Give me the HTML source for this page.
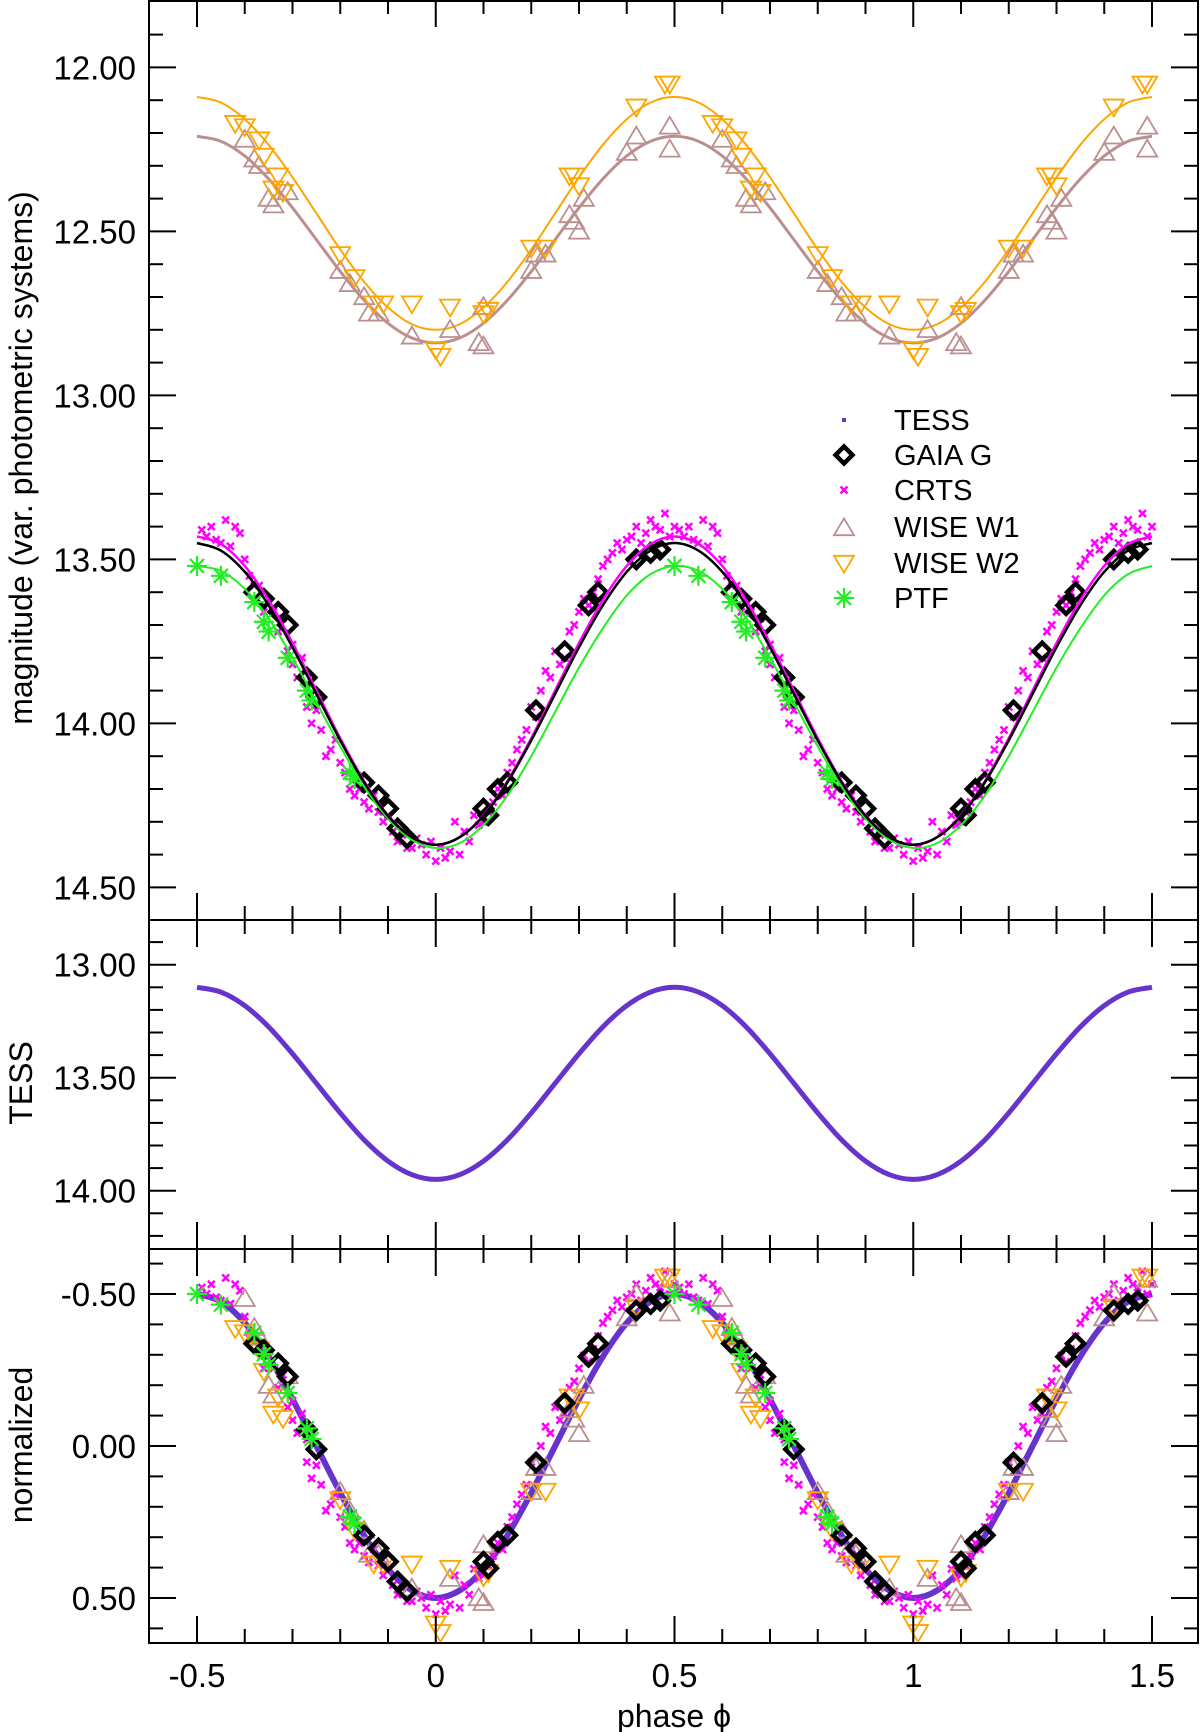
<!DOCTYPE html>
<html><head><meta charset="utf-8"><style>
html,body{margin:0;padding:0;background:#fff}
svg{display:block}
text{font-family:"Liberation Sans",sans-serif;fill:#000}
</style></head><body>
<svg id="c" width="1200" height="1732" viewBox="0 0 1200 1732" xmlns="http://www.w3.org/2000/svg"></svg>
<script>
// ---- data (one cycle, phase -0.5..0.5; drawn again at phase+1) ----
const fitPhases=[-0.5,-0.45,-0.4,-0.35,-0.3,-0.25,-0.2,-0.15,-0.1,-0.05,0,0.05,0.1,0.15,0.2,0.25,0.3,0.35,0.4,0.45,0.5];
const fitW2=[12.09,12.107,12.158,12.236,12.335,12.445,12.555,12.654,12.732,12.783,12.80,12.783,12.732,12.654,12.555,12.445,12.335,12.236,12.158,12.107,12.09];
const fitW1=[12.21,12.225,12.270,12.340,12.428,12.525,12.622,12.710,12.780,12.825,12.84,12.825,12.780,12.710,12.622,12.525,12.428,12.340,12.270,12.225,12.21];
const fitGaia=[13.45,13.473,13.538,13.640,13.768,13.91,14.052,14.180,14.282,14.347,14.37,14.347,14.282,14.180,14.052,13.91,13.768,13.640,13.538,13.473,13.45];
const fitCrts=[13.43,13.453,13.520,13.624,13.755,13.90,14.045,14.176,14.280,14.347,14.37,14.347,14.280,14.176,14.045,13.90,13.755,13.624,13.520,13.453,13.43];
const fitPtf=[13.52,13.535,13.590,13.680,13.800,13.935,14.070,14.193,14.290,14.355,14.38,14.365,14.310,14.220,14.100,13.965,13.830,13.710,13.610,13.545,13.52];
const tessMag=[13.10,13.121,13.181,13.275,13.394,13.525,13.656,13.775,13.869,13.929,13.95,13.929,13.869,13.775,13.656,13.525,13.394,13.275,13.181,13.121,13.10];

const w2Ph=[-0.42,-0.40,-0.37,-0.36,-0.34,-0.33,-0.32,-0.2,-0.17,-0.13,-0.11,-0.05,0.0,0.01,0.03,0.1,0.11,0.2,0.23,0.28,0.29,0.30,0.42,0.48,0.49];
const w2Mag=[12.17,12.18,12.22,12.27,12.37,12.33,12.38,12.57,12.64,12.72,12.72,12.72,12.86,12.88,12.73,12.75,12.74,12.55,12.55,12.33,12.33,12.36,12.12,12.05,12.05];
const w1Ph=[-0.4,-0.38,-0.37,-0.35,-0.34,-0.31,-0.2,-0.18,-0.15,-0.14,-0.12,-0.05,0.03,0.09,0.10,0.10,0.2,0.21,0.23,0.28,0.29,0.30,0.31,0.40,0.42,0.49,0.49];
const w1Mag=[12.22,12.28,12.30,12.40,12.42,12.38,12.62,12.66,12.70,12.75,12.75,12.82,12.80,12.84,12.85,12.73,12.62,12.57,12.57,12.45,12.47,12.50,12.40,12.26,12.21,12.25,12.18];
const gaiaPh=[-0.38,-0.36,-0.33,-0.31,-0.27,-0.25,-0.15,-0.12,-0.10,-0.08,-0.06,0.1,0.11,0.13,0.15,0.21,0.27,0.32,0.34,0.42,0.45,0.47];
const gaiaMag=[13.60,13.62,13.66,13.70,13.86,13.92,14.18,14.22,14.26,14.32,14.35,14.26,14.28,14.20,14.18,13.96,13.78,13.64,13.60,13.50,13.48,13.47];
const ptfPh=[-0.5,-0.45,-0.38,-0.36,-0.35,-0.31,-0.27,-0.26,-0.18,-0.17];
const ptfMag=[13.52,13.55,13.63,13.69,13.72,13.80,13.90,13.93,14.15,14.17];
const crtsPh=[-0.49,-0.47,-0.46,-0.44,-0.43,-0.41,-0.40,-0.39,-0.37,-0.36,-0.35,-0.33,-0.32,-0.31,-0.30,-0.29,-0.28,-0.27,-0.26,-0.24,-0.22,-0.20,-0.18,-0.16,-0.14,-0.13,-0.11,-0.10,-0.08,-0.06,-0.04,-0.02,0.0,0.01,0.02,0.04,0.05,0.07,0.08,0.10,0.12,0.14,0.15,0.17,0.19,0.20,0.22,0.24,0.25,0.27,0.28,0.30,0.31,0.33,0.35,0.37,0.38,0.40,0.42,0.44,0.45,0.47,0.48,0.50,
 -0.48,-0.45,-0.42,-0.38,-0.34,-0.30,-0.27,-0.25,-0.23,-0.21,-0.19,-0.17,-0.15,-0.12,-0.09,-0.07,-0.05,-0.03,-0.01,0.03,0.06,0.09,0.11,0.13,0.16,0.18,0.21,0.23,0.26,0.29,0.32,0.34,0.36,0.39,0.41,0.43,0.46,0.49];
const crtsMag=[13.41,13.40,13.44,13.38,13.46,13.42,13.50,13.55,13.58,13.66,13.62,13.72,13.68,13.78,13.82,13.86,13.80,13.95,14.00,14.02,14.08,14.12,14.20,14.20,14.26,14.22,14.30,14.28,14.36,14.38,14.35,14.40,14.42,14.38,14.41,14.30,14.40,14.36,14.28,14.30,14.24,14.22,14.15,14.08,14.02,13.95,13.90,13.86,13.78,13.80,13.72,13.66,13.62,13.60,13.52,13.48,13.45,13.44,13.40,13.42,13.38,13.41,13.36,13.40,
 13.43,13.45,13.40,13.58,13.66,13.76,13.88,13.96,14.10,14.05,14.15,14.22,14.24,14.27,14.33,14.34,14.38,14.37,14.36,14.39,14.33,14.31,14.27,14.20,14.12,14.05,13.98,13.84,13.82,13.70,13.64,13.56,13.50,13.47,13.43,13.45,13.40,13.43];

const xTicks=[-0.5,0,0.5,1,1.5];
const xTickLabels=["-0.5","0","0.5","1","1.5"];
const topTicks=[12.0,12.5,13.0,13.5,14.0,14.5];
const topTickLabels=["12.00","12.50","13.00","13.50","14.00","14.50"];
const midTicks=[13.0,13.5,14.0];
const midTickLabels=["13.00","13.50","14.00"];
const botTicks=[-0.5,0,0.5];
const botTickLabels=["-0.50","0.00","0.50"];

// ---- geometry ----
const NS="http://www.w3.org/2000/svg";
const svg=document.getElementById('c');
const L=149,R=1198;
const xs=p=>197+(p+0.5)*477.5;
const panels={
 top:{y0:0,y1:920,v0:12.0,p0:67.4,s:328},
 mid:{y0:920,y1:1249,v0:13.0,p0:964.7,s:226},
 bot:{y0:1249,y1:1643,v0:-0.5,p0:1294,s:304}
};
const ys=(pn,v)=>pn.p0+(v-pn.v0)*pn.s;
function el(tag,attrs,parent){const e=document.createElementNS(NS,tag);for(const k in attrs)e.setAttribute(k,attrs[k]);(parent||svg).appendChild(e);return e;}
function spline(pts){let d=`M${pts[0][0]},${pts[0][1]}`;for(let i=0;i<pts.length-1;i++){const p0=pts[Math.max(0,i-1)],p1=pts[i],p2=pts[i+1],p3=pts[Math.min(pts.length-1,i+2)];const c1=[p1[0]+(p2[0]-p0[0])/6,p1[1]+(p2[1]-p0[1])/6],c2=[p2[0]-(p3[0]-p1[0])/6,p2[1]-(p3[1]-p1[1])/6];d+=`C${c1[0]},${c1[1]} ${c2[0]},${c2[1]} ${p2[0]},${p2[1]}`;}return d;}
function curvePts(pn,vals,tr){const pts=[];for(let k=0;k<2;k++)fitPhases.forEach((p,i)=>{if(k===1&&i===0)return;pts.push([xs(p+k),ys(pn,tr?tr(vals[i]):vals[i])]);});return pts;}
function norm(fit){const mx=Math.max(...fit),mn=Math.min(...fit);return v=>(v-(mx+mn)/2)/(mx-mn);}

// markers
function tri(g,x,y,up,col){const h=16,w=10;const pts=up?`${x},${y-h*0.6} ${x-w},${y+h*0.45} ${x+w},${y+h*0.45}`:`${x},${y+h*0.6} ${x-w},${y-h*0.45} ${x+w},${y-h*0.45}`;return el('polygon',{points:pts,fill:'none',stroke:col,'stroke-width':1.8},g);}
function diamond(g,x,y){return el('rect',{x:x-6,y:y-6,width:12,height:12,transform:`rotate(45 ${x} ${y})`,fill:'none',stroke:'#000','stroke-width':4.5},g);}
function star(g,x,y){const r=10;return el('path',{d:`M${x-r},${y}H${x+r}M${x},${y-r}V${y+r}M${x-r*0.7},${y-r*0.7}L${x+r*0.7},${y+r*0.7}M${x-r*0.7},${y+r*0.7}L${x+r*0.7},${y-r*0.7}`,stroke:'#22ee22','stroke-width':2.2,fill:'none'},g);}
function cross(g,x,y){const r=3.5;return el('path',{d:`M${x-r},${y-r}L${x+r},${y+r}M${x-r},${y+r}L${x+r},${y-r}`,stroke:'#ff00ff','stroke-width':2.5,fill:'none'},g);}

function scatter(pn,ph,mag,fn,name,tr){const g=el('g',{});for(let k=0;k<2;k++)ph.forEach((p,i)=>{const q=p+k;if(q>1.5001)return;const v=tr?tr(mag[i]):mag[i];fn(g,xs(q),ys(pn,v));});}
function line(pn,vals,col,w,name,tr){const p=el('path',{d:spline(curvePts(pn,vals,tr)),fill:'none',stroke:col,'stroke-width':w});}

// ---- top panel ----
const T=panels.top;
line(T,fitW1,'#bc8f8f',3,'fit-w1');
line(T,fitW2,'#ffa500',2,'fit-w2');
scatter(T,w1Ph,w1Mag,(g,x,y)=>tri(g,x,y,true,'#bc8f8f'),'wise-w1-points');
scatter(T,w2Ph,w2Mag,(g,x,y)=>tri(g,x,y,false,'#ffa500'),'wise-w2-points');
scatter(T,crtsPh,crtsMag,cross,'crts-points');
scatter(T,gaiaPh,gaiaMag,diamond,'gaia-points');
scatter(T,ptfPh,ptfMag,star,'ptf-points');
line(T,fitPtf,'#22ee22',2,'fit-ptf');
line(T,fitCrts,'#ff00ff',2.5,'fit-crts');
line(T,fitGaia,'#000',2.5,'fit-gaia');

// ---- middle panel ----
const M=panels.mid;
line(M,tessMag,'#6633cc',5,'tess-curve');

// ---- bottom panel ----
const B=panels.bot;
line(B,tessMag,'#6633cc',6,'tess-normalized',norm(tessMag));
scatter(B,crtsPh,crtsMag,cross,'crts-normalized',norm(fitCrts));
scatter(B,w1Ph,w1Mag,(g,x,y)=>tri(g,x,y,true,'#bc8f8f'),'w1-normalized',norm(fitW1));
scatter(B,w2Ph,w2Mag,(g,x,y)=>tri(g,x,y,false,'#ffa500'),'w2-normalized',norm(fitW2));
scatter(B,gaiaPh,gaiaMag,diamond,'gaia-normalized',norm(fitGaia));
scatter(B,ptfPh,ptfMag,star,'ptf-normalized',norm(fitPtf));

// ---- frames & ticks ----
const ax=el('g',{stroke:'#000','stroke-width':2,fill:'none'});


el('rect',{x:L,y:1,width:R-L,height:1642},ax);
el('line',{x1:L,y1:920,x2:R,y2:920},ax);
el('line',{x1:L,y1:1249,x2:R,y2:1249},ax);
Object.values(panels).forEach(pn=>{
  for(let i=0;i<=20;i++){const p=-0.5+i*0.1;const x=xs(p);const len=(i%5===0)?27:14;
    el('line',{x1:x,y1:pn.y0,x2:x,y2:pn.y0+len},ax);el('line',{x1:x,y1:pn.y1,x2:x,y2:pn.y1-len},ax);}
  for(let k=-40;k<=40;k++){const v=pn.v0+k*0.1;const y=ys(pn,v);if(y<=pn.y0+2||y>=pn.y1-2)continue;const len=(k%5===0)?27:14;
    el('line',{x1:L,y1:y,x2:L+len,y2:y},ax);el('line',{x1:R,y1:y,x2:R-len,y2:y},ax);}
});
function ylabels(pn,ticks,labels,name){ticks.forEach((v,i)=>{const t=el('text',{x:136,y:ys(pn,v)+12,'text-anchor':'end','font-size':33});t.textContent=labels[i];});}
ylabels(T,topTicks,topTickLabels,'y-tick-label-top');
ylabels(M,midTicks,midTickLabels,'y-tick-label-tess');
ylabels(B,botTicks,botTickLabels,'y-tick-label-normalized');
xTicks.forEach((p,i)=>{const t=el('text',{x:xs(p),y:1687,'text-anchor':'middle','font-size':33});t.textContent=xTickLabels[i];});
function rot(txt,x,y,name){const t=el('text',{x:x,y:y,'text-anchor':'middle','font-size':32,transform:`rotate(-90 ${x} ${y})`});t.textContent=txt;}
rot('magnitude (var. photometric systems)',32,458,'y-axis-title-magnitude');
rot('TESS',32,1083,'y-axis-title-tess');
rot('normalized',32,1445,'y-axis-title-normalized');
const xt=el('text',{x:674,y:1727,'text-anchor':'middle','font-size':32});xt.textContent='phase \u03D5';



// ---- legend ----
const lg=el('g',{});


const legNames=['TESS','GAIA G','CRTS','WISE W1','WISE W2','PTF'];
const legY=[420,455,490,527,563,598];
el('rect',{x:842,y:418,width:4,height:4,fill:'#6633cc'},lg);
diamond(lg,844,455);cross(lg,844,490);tri(lg,844,528,true,'#bc8f8f');tri(lg,844,563,false,'#ffa500');star(lg,844,598);
legNames.forEach((n,i)=>{const t=el('text',{x:894,y:legY[i]+10,'font-size':29},lg);t.textContent=n;});
</script>
</body></html>
